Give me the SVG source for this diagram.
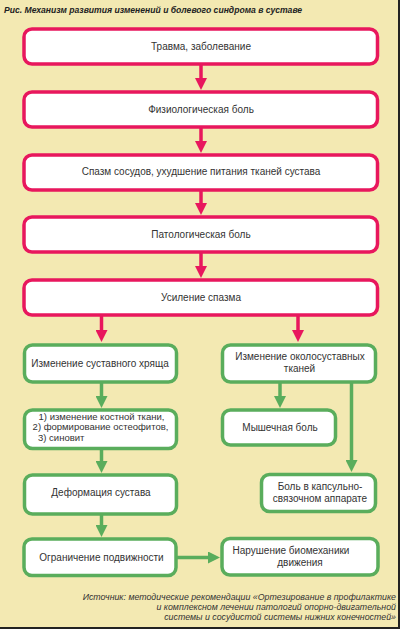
<svg xmlns="http://www.w3.org/2000/svg" width="400" height="629" viewBox="0 0 400 629">
<defs>
<style>
.bg{fill:#f3e9b2}
.p{fill:#fff;stroke:#e8175d;stroke-width:3.5}
.g{fill:#fff;stroke:#5aad5c;stroke-width:3.5}
.t{font-family:"Liberation Sans",Arial,sans-serif;font-size:10px;fill:#333;text-anchor:middle}
.ts{font-size:9.5px}
.ti{font-family:"Liberation Sans",Arial,sans-serif;font-size:8.6px;font-weight:bold;font-style:italic;fill:#222}
.src{font-family:"Liberation Sans",Arial,sans-serif;font-size:8.8px;font-style:italic;fill:#333;text-anchor:end}
.lr{stroke:#e8175d;stroke-width:3.5;fill:none}
.lg{stroke:#5aad5c;stroke-width:3.5;fill:none}
</style>
<marker id="ar" markerUnits="userSpaceOnUse" markerWidth="12" markerHeight="12" viewBox="0 0 12 12" refX="4" refY="6" orient="auto"><path d="M0,0 L12,6 L0,12 z" fill="#e8175d"/></marker>
<marker id="ag" markerUnits="userSpaceOnUse" markerWidth="12" markerHeight="12" viewBox="0 0 12 12" refX="4" refY="6" orient="auto"><path d="M0,0 L12,6 L0,12 z" fill="#5aad5c"/></marker>
</defs>
<rect class="bg" x="0" y="0" width="400" height="629"/>
<rect x="398" y="0" width="2" height="629" fill="#222"/>
<rect x="0" y="627" width="400" height="2" fill="#222"/>
<text class="ti" x="4" y="12.5">Рис. Механизм развития изменений и болевого синдрома в суставе</text>

<g id="connectors">
<line class="lr" x1="201" y1="64" x2="201" y2="82" marker-end="url(#ar)"/>
<line class="lr" x1="201" y1="127" x2="201" y2="145" marker-end="url(#ar)"/>
<line class="lr" x1="201" y1="190" x2="201" y2="207" marker-end="url(#ar)"/>
<line class="lr" x1="201" y1="252" x2="201" y2="270" marker-end="url(#ar)"/>
<line class="lr" x1="101.5" y1="315" x2="101.5" y2="334" marker-end="url(#ar)"/>
<line class="lr" x1="298" y1="315" x2="298" y2="334" marker-end="url(#ar)"/>
<line class="lg" x1="101.5" y1="382" x2="101.5" y2="400" marker-end="url(#ag)"/>
<line class="lg" x1="101.5" y1="448" x2="101.5" y2="465" marker-end="url(#ag)"/>
<line class="lg" x1="101.5" y1="514" x2="101.5" y2="529" marker-end="url(#ag)"/>
<line class="lg" x1="280" y1="382" x2="280" y2="400" marker-end="url(#ag)"/>
<line class="lg" x1="351.5" y1="382" x2="351.5" y2="464" marker-end="url(#ag)"/>
<line class="lg" x1="176" y1="557.5" x2="212" y2="557.5" marker-end="url(#ag)"/>
</g>

<g id="n1"><rect class="p" x="24" y="29" width="353.5" height="35" rx="8"/><text class="t" x="201" y="50">Травма, заболевание</text></g>
<g id="n2"><rect class="p" x="24" y="92" width="353.5" height="35" rx="8"/><text class="t" x="201" y="112.5">Физиологическая боль</text></g>
<g id="n3"><rect class="p" x="24" y="155" width="353.5" height="35" rx="8"/><text class="t" x="201" y="175">Спазм сосудов, ухудшение питания тканей сустава</text></g>
<g id="n4"><rect class="p" x="24" y="217" width="353.5" height="35" rx="8"/><text class="t" x="201" y="237.5">Патологическая боль</text></g>
<g id="n5"><rect class="p" x="24" y="280" width="353.5" height="35" rx="8"/><text class="t" x="201" y="300.5">Усиление спазма</text></g>

<g id="l1"><rect class="g" x="24.5" y="345" width="152" height="37" rx="8"/><text class="t" x="100" y="366.5">Изменение суставного хряща</text></g>
<g id="l2"><rect class="g" x="24.5" y="410" width="152" height="38.5" rx="8"/>
<text class="t ts" x="101.5" y="419.5">1) изменение костной ткани,</text>
<text class="t ts" x="100.5" y="430.3">2) формирование остеофитов,</text>
<text class="t ts" x="38" y="441" style="text-anchor:start">3) синовит</text></g>
<g id="l3"><rect class="g" x="24.5" y="475" width="152" height="39" rx="8"/><text class="t" x="101" y="496">Деформация сустава</text></g>
<g id="l4"><rect class="g" x="24" y="539" width="152" height="36.5" rx="8"/><text class="t" x="101.5" y="560.5">Ограничение подвижности</text></g>

<g id="r1"><rect class="g" x="222.5" y="345" width="153" height="37" rx="8"/>
<text class="t" x="300" y="360">Изменение околосуставных</text>
<text class="t" x="299.5" y="371.5">тканей</text></g>
<g id="r2"><rect class="g" x="222.5" y="410" width="113" height="35" rx="8"/><text class="t" x="280" y="431">Мышечная боль</text></g>
<g id="r2b"><rect class="g" x="261.5" y="474.5" width="114" height="37" rx="8"/>
<text class="t" x="320" y="490">Боль в капсульно-</text>
<text class="t" x="320" y="501.5">связочном аппарате</text></g>
<g id="r3"><rect class="g" x="222" y="538.5" width="156" height="36.5" rx="8"/>
<text class="t" x="291" y="554">Нарушение биомеханики</text>
<text class="t" x="300" y="565.5">движения</text></g>

<text class="src" x="396" y="600">Источник: методические рекомендации «Ортезирование в профилактике</text>
<text class="src" x="396" y="610">и комплексном лечении патологий опорно-двигательной</text>
<text class="src" x="396" y="620">системы и сосудистой системы нижних конечностей»</text>
</svg>
